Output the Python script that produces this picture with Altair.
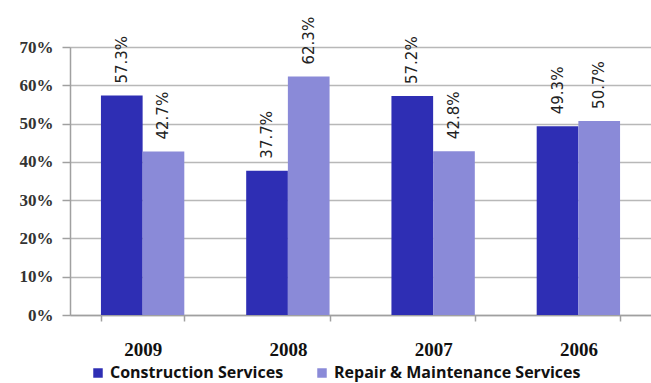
import altair as alt
import pandas as pd

years = ["2009", "2008", "2007", "2006"]
construction = [57.3, 37.7, 57.2, 49.3]
repair = [42.7, 62.3, 42.8, 50.7]
series = ["Construction Services", "Repair & Maintenance Services"]
colors = ["#2E2EB4", "#8A8AD8"]

rows = []
for i, y in enumerate(years):
    rows.append({"year": y, "series": series[0], "value": construction[i] / 100, "label": f"{construction[i]:.1f}%"})
    rows.append({"year": y, "series": series[1], "value": repair[i] / 100, "label": f"{repair[i]:.1f}%"})
df = pd.DataFrame(rows)

x = alt.X("year:N", sort=years, title=None,
          scale=alt.Scale(paddingInner=0.426, paddingOuter=0.213),
          axis=alt.Axis(labelAngle=0, tickBand="extent", tickSize=6, tickColor="#a0a0a0",
                        domainColor="#a0a0a0", domainWidth=1.5, tickWidth=1.5,
                        labelFont="Liberation Serif", labelFontWeight="bold", labelFontSize=19,
                        labelColor="#111111", labelPadding=19))
y = alt.Y("value:Q", title=None,
          scale=alt.Scale(domain=[0, 0.7]),
          axis=alt.Axis(format=".0%", values=[0, 0.1, 0.2, 0.3, 0.4, 0.5, 0.6, 0.7],
                        grid=True, gridColor="#b8b8b8", gridWidth=1.5,
                        domainColor="#a0a0a0", domainWidth=1.5, tickColor="#a0a0a0", tickWidth=1.5,
                        tickSize=8, labelFont="Liberation Serif", labelFontWeight="bold",
                        labelFontSize=17, labelColor="#333333", labelPadding=9))
xo = alt.XOffset("series:N", sort=series)

base = alt.Chart(df)
bars = base.mark_bar().encode(
    x=x, y=y, xOffset=xo,
    color=alt.Color("series:N", sort=series, title=None,
                    scale=alt.Scale(domain=series, range=colors),
                    legend=alt.Legend(orient="none", legendX=20, legendY=318, direction="horizontal",
                                      symbolType="square", symbolSize=90, symbolStrokeWidth=0,
                                      labelFont="Open Sans", labelFontWeight="bold", labelFontSize=16,
                                      labelColor="#111111", columnPadding=30, labelLimit=400)))
labels = base.mark_text(angle=270, align="left", baseline="middle", dx=12,
                        font="DejaVu Sans", fontSize=15, color="#222222").encode(
    x=x, y=y, xOffset=xo, text="label:N")

chart = (bars + labels).properties(
    width=581, height=268,
    autosize=alt.AutoSizeParams(type="none"),
    padding={"left": 70, "top": 47, "right": 0, "bottom": 68},
).configure_view(stroke=None).configure(background="white")

chart.save("out.html", embed_options={"renderer": "svg", "actions": False})
